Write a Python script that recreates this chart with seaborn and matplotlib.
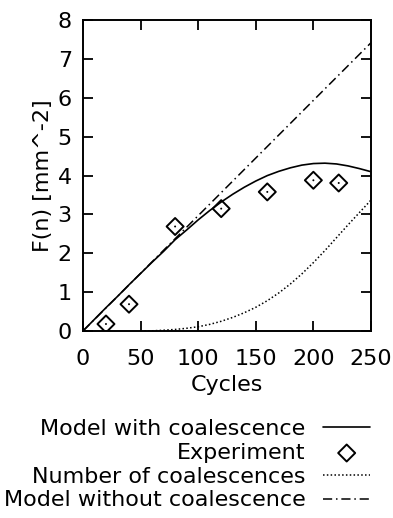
import matplotlib
matplotlib.use('Agg')
import matplotlib.pyplot as plt
import seaborn as sns

# values
cycles = [0, 10, 20, 30, 40, 50, 60, 70, 80, 90, 100, 110, 120, 130,
          140, 150, 160, 170, 180, 190, 200, 210, 220, 230, 240, 250]
model_with = [0, 0.30, 0.60, 0.89, 1.19, 1.48, 1.77, 2.05, 2.35, 2.60,
              2.86, 3.10, 3.32, 3.52, 3.70, 3.86, 4.00, 4.11, 4.20, 4.27,
              4.31, 4.32, 4.30, 4.25, 4.18, 4.10]

coal_cycles = [50, 60, 70, 80, 90, 100, 110, 120, 130, 140, 150, 160,
               170, 180, 190, 200, 210, 220, 230, 240, 250]
coalescences = [0, 0.005, 0.02, 0.04, 0.07, 0.11, 0.17, 0.25, 0.35, 0.47,
                0.61, 0.78, 0.98, 1.21, 1.47, 1.76, 2.07, 2.40, 2.73, 3.05,
                3.37]

nocoal_cycles = [0, 250]
model_without = [0, 7.42]

exp_cycles = [20, 40, 80, 120, 160, 200, 222]
exp_values = [0.18, 0.69, 2.69, 3.15, 3.58, 3.88, 3.81]

sns.set_style('ticks')
plt.rcParams['font.family'] = ['DejaVu Sans']
plt.rcParams['text.color'] = 'k'
plt.rcParams['axes.labelcolor'] = 'k'
plt.rcParams['xtick.color'] = 'k'
plt.rcParams['ytick.color'] = 'k'

fig = plt.figure(figsize=(3.93, 5.18), dpi=100)
ax = fig.add_axes([0.211, 0.361, 0.733, 0.600])

sns.lineplot(x=cycles, y=model_with, color='k', lw=1.2, ax=ax,
             label='Model with coalescence')
sns.scatterplot(x=exp_cycles, y=exp_values, marker='D', s=75,
                facecolor='none', edgecolor='k', linewidth=1.4, ax=ax,
                label='Experiment', zorder=3)
sns.scatterplot(x=exp_cycles, y=exp_values, marker='o', s=2, color='k',
                edgecolor='none', ax=ax, legend=False, zorder=3)
sns.lineplot(x=coal_cycles, y=coalescences, color='k', lw=1.1,
             linestyle=(0, (1, 1.5)), ax=ax, label='Number of coalescences')
sns.lineplot(x=nocoal_cycles, y=model_without, color='k', lw=1.1,
             linestyle=(0, (6, 2.5, 1, 2.5)), ax=ax,
             label='Model without coalescence')

ax.set_xlim(0, 250)
ax.set_ylim(0, 8)
ax.set_xticks(range(0, 251, 50))
ax.set_yticks(range(0, 9))
ax.tick_params(direction='in', length=7, width=1.3, top=True, right=True,
               labelsize=16)
ax.tick_params(axis='x', pad=13)
ax.tick_params(axis='y', pad=8)
for sp in ax.spines.values():
    sp.set_linewidth(1.4)
    sp.set_color('k')
ax.set_xlabel('Cycles', fontsize=16, labelpad=4)
ax.set_ylabel('F(n) [mm^-2]', fontsize=16, labelpad=3)

handles, labels = ax.get_legend_handles_labels()
ax.get_legend().remove()
fig.legend(handles, labels, loc='upper right', bbox_to_anchor=(0.9415, 0.191),
           frameon=False, markerfirst=False, handlelength=2.1,
           handletextpad=0.8, labelspacing=0.17, borderpad=0,
           borderaxespad=0, fontsize=16)

fig.savefig('out.png', dpi=100)
